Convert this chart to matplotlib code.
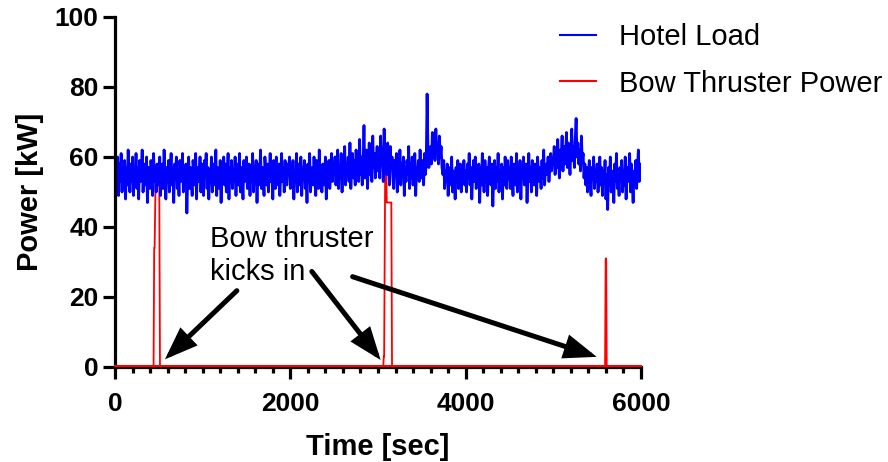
import numpy as np
import matplotlib
matplotlib.use("Agg")
import matplotlib.pyplot as plt

plt.rcParams['font.family'] = ['Liberation Sans', 'DejaVu Sans']

# Hotel load [kW], one value every 10 s from 0 s
hotel_step = 10
hotel_load = [
    # 0 - 490 s
    57, 51, 55, 60, 49, 58, 53, 61, 50, 56, 54, 59, 48, 57, 52, 62, 55, 50, 58, 53,
    60, 49, 56, 54, 61, 51, 57, 48, 59, 53, 55, 62, 50, 56, 58, 52, 60, 47, 57, 54,
    51, 59, 55, 49, 61, 53, 57, 50, 58, 55,
    # 500 - 990 s
    52, 60, 49, 56, 58, 51, 62, 54, 48, 57, 53, 59, 50, 55, 61, 52, 57, 47, 58, 54,
    60, 51, 56, 49, 59, 53, 55, 61, 50, 57, 52, 58, 44, 55, 60, 51, 57, 54, 49, 59,
    56, 52, 61, 48, 57, 53, 55, 60, 50, 58,
    # 1000 - 1490 s
    54, 49, 59, 55, 61, 51, 57, 48, 56, 53, 60, 50, 58, 54, 52, 62, 49, 57, 55, 51,
    59, 47, 56, 53, 60, 52, 58, 50, 55, 61, 48, 57, 54, 59, 51, 56, 53, 60, 49, 58,
    55, 52, 61, 50, 57, 54, 48, 59, 53, 56,
    # 1500 - 1990 s
    60, 51, 55, 58, 49, 57, 53, 61, 50, 56, 54, 59, 47, 58, 52, 55, 62, 51, 57, 54,
    49, 60, 56, 52, 58, 50, 55, 61, 53, 57, 48, 59, 54, 51, 60, 56, 52, 58, 49, 55,
    61, 53, 57, 50, 59, 54, 52, 58, 55, 60,
    # 2000 - 2490 s
    51, 57, 54, 59, 48, 56, 53, 61, 50, 58, 55, 52, 60, 49, 57, 54, 59, 51, 56, 47,
    58, 53, 61, 50, 55, 57, 52, 60, 54, 49, 59, 56, 51, 62, 53, 57, 50, 58, 55, 52,
    60, 48, 57, 54, 59, 51, 56, 61, 53, 58,
    # 2500 - 2990 s
    55, 60, 52, 58, 62, 51, 57, 54, 61, 50, 59, 56, 63, 52, 58, 55, 60, 53, 64, 51,
    57, 61, 54, 59, 52, 62, 56, 58, 53, 65, 55, 60, 52, 57, 69, 54, 59, 62, 51, 58,
    64, 55, 60, 53, 66, 57, 61, 54, 59, 63,
    # 3000 - 3490 s
    56, 60, 54, 66, 58, 62, 53, 68, 57, 61, 55, 64, 59, 52, 63, 57, 60, 54, 51, 59,
    56, 61, 50, 57, 54, 62, 52, 58, 55, 60, 49, 57, 53, 59, 55, 63, 51, 58, 54, 60,
    52, 56, 61, 49, 57, 55, 59, 53, 62, 56,
    # 3500 - 3990 s
    54, 59, 52, 61, 55, 58, 78, 62, 57, 59, 63, 58, 67, 60, 65, 59, 68, 61, 64, 58,
    66, 60, 63, 57, 55, 59, 51, 56, 53, 58, 49, 55, 57, 52, 60, 50, 56, 54, 48, 57,
    53, 59, 51, 55, 58, 50, 56, 53, 59, 52,
    # 4000 - 4490 s
    56, 50, 58, 54, 61, 52, 57, 48, 55, 59, 53, 60, 51, 56, 54, 58, 47, 57, 52, 61,
    55, 50, 59, 53, 57, 49, 56, 60, 54, 52, 58, 46, 55, 59, 51, 57, 53, 61, 50, 56,
    54, 58, 48, 57, 52, 60, 55, 51, 59, 54,
    # 4500 - 4990 s
    57, 51, 60, 54, 49, 58, 55, 52, 61, 50, 56, 53, 59, 48, 57, 54, 60, 52, 56, 58,
    47, 55, 61, 53, 57, 50, 59, 54, 52, 58, 56, 49, 60, 55, 53, 57, 51, 59, 54, 62,
    52, 56, 58, 55, 60, 53, 57, 61, 56, 59,
    # 5000 - 5490 s
    58, 63, 55, 61, 57, 65, 59, 54, 62, 60, 66, 56, 63, 58, 61, 67, 57, 64, 60, 55,
    62, 68, 59, 63, 57, 65, 71, 60, 64, 58, 62, 56, 66, 59, 61, 54, 58, 52, 57, 50,
    55, 59, 53, 49, 57, 54, 60, 51, 56, 53,
    # 5500 - 6000 s
    58, 50, 55, 60, 52, 57, 49, 56, 53, 59, 48, 55, 45, 57, 52, 60, 50, 56, 54, 47,
    58, 53, 61, 51, 55, 49, 57, 54, 59, 50, 56, 52, 60, 48, 57, 53, 55, 61, 50, 58,
    54, 47, 56, 52, 59, 51, 57, 62, 53, 58,
    55,
]
hotel_time = np.arange(len(hotel_load)) * hotel_step

# Bow thruster power (breakpoints)
bow_time = [0, 440, 447, 452, 462, 505, 513, 3060, 3066, 3070, 3082, 3094, 3100, 3152, 3160, 5590, 5597, 5603, 5609, 6000]
bow_power = [0, 0, 34, 34, 52, 52, 0, 0, 3, 3, 57, 57, 47, 47, 0, 0, 31, 31, 0, 0]

arrow_tails = [(1390, 21.8), (2245, 27.3), (2710, 25.8)]
arrow_heads = [(570, 2.2), (3030, 2.0), (5495, 2.9)]

fig = plt.figure(figsize=(8.88, 4.62), dpi=100)
ax = fig.add_axes([115/888, 1-367/462, (641-115)/888, (367-17)/462])

ax.plot(bow_time, bow_power, color='#ff0000', lw=1.3, zorder=2, label='Bow Thruster Power', clip_on=False)
ax.plot(hotel_time, hotel_load, color='#0000ff', lw=2.0, zorder=3, label='Hotel Load')
ax.plot([0, 6000], [0.3, 0.3], color='#ff0000', lw=1.5, zorder=5, clip_on=False)

ax.set_xlim(0, 6000)
ax.set_ylim(0, 100)
ax.set_xticks([0, 2000, 4000, 6000])
ax.set_xticks(np.arange(0, 6001, 200), minor=True)
ax.set_yticks([0, 20, 40, 60, 80, 100])

for s in ['top', 'right']:
    ax.spines[s].set_visible(False)
for s in ['left', 'bottom']:
    ax.spines[s].set_linewidth(2.3)
    ax.spines[s].set_zorder(4)

ax.tick_params(axis='both', which='major', width=2.3, length=8.8, labelsize=19)
ax.tick_params(axis='x', which='major', pad=9.5)
ax.tick_params(axis='y', which='major', pad=3)
ax.tick_params(axis='x', which='minor', width=2.3, length=4.5)
for lab in ax.get_xticklabels() + ax.get_yticklabels():
    lab.set_fontweight('bold')

ax.set_xlabel('Time [sec]', fontsize=21, fontweight='bold', labelpad=12)
ax.set_ylabel('Power [kW]', fontsize=21, fontweight='bold', labelpad=8)

ax.text(1084, 34.3, 'Bow thruster', fontsize=21, ha='left', va='baseline', zorder=6)
ax.text(1084, 24.9, 'kicks in', fontsize=21, ha='left', va='baseline', zorder=6)

for tail, head in zip(arrow_tails, arrow_heads):
    ax.annotate('', xy=head, xytext=tail,
                arrowprops=dict(arrowstyle='-|>,head_length=0.85,head_width=0.32',
                                lw=3.6, color='black', shrinkA=0, shrinkB=0,
                                mutation_scale=20, joinstyle='miter'),
                zorder=6, annotation_clip=False)

handles, labels = ax.get_legend_handles_labels()
order = [1, 0]
leg = fig.legend([handles[i] for i in order], [labels[i] for i in order],
                 loc='upper left', bbox_to_anchor=(534/888, 1+3/462), frameon=False,
                 fontsize=21, handlelength=1.23, handletextpad=0.79, labelspacing=0.63)
for line in leg.get_lines():
    line.set_linewidth(1.5)

fig.savefig('out.png', dpi=100)
